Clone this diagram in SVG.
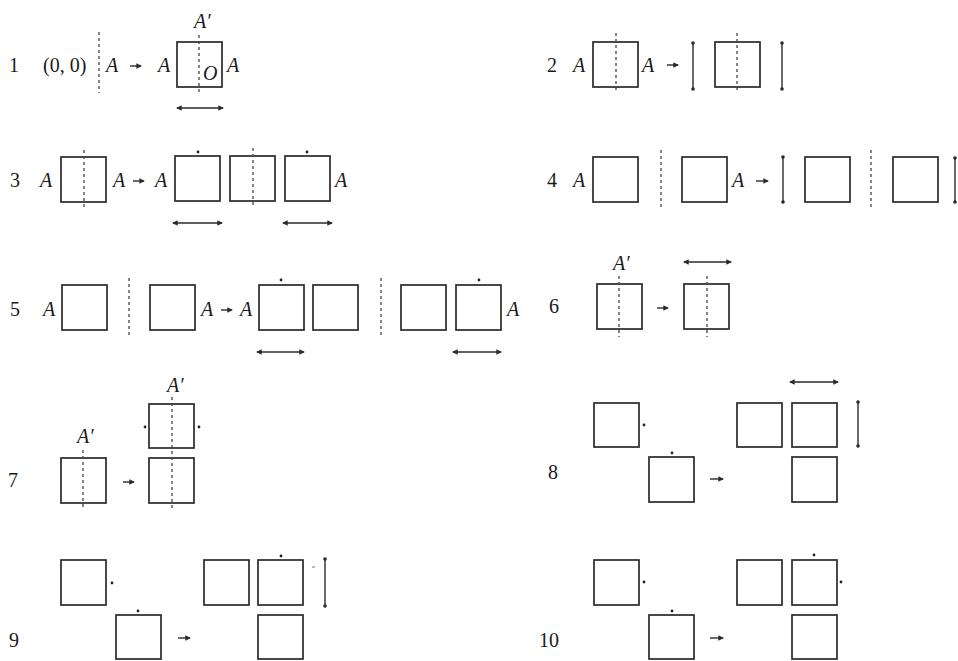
<svg xmlns="http://www.w3.org/2000/svg" width="958" height="661" viewBox="0 0 958 661">
<defs>
<style>
.sq{fill:none;stroke:#2a2a2a;stroke-width:1.7}
.ds{stroke:#444;stroke-width:1.3;stroke-dasharray:3 3;fill:none}
.t{font-family:"Liberation Serif","Times New Roman",serif;font-size:20px;fill:#1a1a1a}
.i{font-style:italic}
.dot{fill:#222}
.ln{stroke:#2a2a2a;stroke-width:1.4;fill:none}
.h{marker-start:url(#tip);marker-end:url(#tip)}
.v{marker-start:url(#rd);marker-end:url(#rd)}
.ar{marker-end:url(#tip)}
</style>
<marker id="tip" viewBox="0 0 6 6" refX="5" refY="3" markerWidth="4" markerHeight="4" orient="auto-start-reverse" markerUnits="strokeWidth">
<path d="M0,0 L6,3 L0,6 Z" fill="#2a2a2a"/>
</marker>
<marker id="rd" viewBox="0 0 6 6" refX="3" refY="3" markerWidth="2.6" markerHeight="2.6" markerUnits="strokeWidth">
<circle cx="3" cy="3" r="3" fill="#2a2a2a"/>
</marker>
</defs>
<rect width="958" height="661" fill="#fff"/>

<g id="row1">
<text class="t" x="9" y="72">1</text>
<text class="t" x="43" y="72">(0, 0)</text>
<line class="ds" x1="99" y1="32" x2="99" y2="93"/>
<text class="t i" x="106" y="72">A</text>
<text class="t i" x="158" y="72">A</text>
<rect class="sq" x="177" y="42" width="45" height="45"/>
<line class="ds" x1="199" y1="35" x2="199" y2="93"/>
<text class="t i" x="194" y="28">A′</text>
<text class="t i" x="203" y="80">O</text>
<text class="t i" x="227" y="72">A</text>
</g>

<g id="row2">
<text class="t" x="547" y="72">2</text>
<text class="t i" x="573" y="72">A</text>
<rect class="sq" x="593" y="42" width="45" height="45"/>
<line class="ds" x1="616" y1="33" x2="616" y2="93"/>
<text class="t i" x="642" y="72">A</text>
<rect class="sq" x="715" y="42" width="45" height="45"/>
<line class="ds" x1="737" y1="33" x2="737" y2="93"/>
</g>

<g id="row3">
<text class="t" x="10" y="187">3</text>
<text class="t i" x="40" y="187">A</text>
<rect class="sq" x="61" y="157" width="45" height="45"/>
<line class="ds" x1="84" y1="150" x2="84" y2="208"/>
<text class="t i" x="113" y="187">A</text>
<text class="t i" x="155" y="187">A</text>
<rect class="sq" x="175" y="156" width="45" height="45"/>
<circle class="dot" cx="198" cy="152" r="1.4"/>
<rect class="sq" x="230" y="156" width="45" height="45"/>
<line class="ds" x1="253" y1="148" x2="253" y2="207"/>
<rect class="sq" x="285" y="156" width="45" height="45"/>
<circle class="dot" cx="307" cy="152" r="1.4"/>
<text class="t i" x="335" y="187">A</text>
</g>

<g id="row4">
<text class="t" x="547" y="187">4</text>
<text class="t i" x="573" y="187">A</text>
<rect class="sq" x="593" y="157" width="45" height="45"/>
<line class="ds" x1="661" y1="150" x2="661" y2="208"/>
<rect class="sq" x="682" y="157" width="45" height="45"/>
<text class="t i" x="732" y="187">A</text>
<rect class="sq" x="805" y="157" width="45" height="45"/>
<line class="ds" x1="871" y1="150" x2="871" y2="208"/>
<rect class="sq" x="893" y="157" width="45" height="45"/>
</g>

<g id="row5">
<text class="t" x="10" y="316">5</text>
<text class="t i" x="43" y="316">A</text>
<rect class="sq" x="62" y="285" width="45" height="45"/>
<line class="ds" x1="129" y1="278" x2="129" y2="336"/>
<rect class="sq" x="150" y="285" width="45" height="45"/>
<text class="t i" x="201" y="316">A</text>
<text class="t i" x="240" y="316">A</text>
<rect class="sq" x="259" y="285" width="45" height="45"/>
<circle class="dot" cx="281" cy="280" r="1.4"/>
<rect class="sq" x="313" y="285" width="45" height="45"/>
<line class="ds" x1="381" y1="278" x2="381" y2="336"/>
<rect class="sq" x="401" y="285" width="45" height="45"/>
<rect class="sq" x="456" y="285" width="45" height="45"/>
<circle class="dot" cx="479" cy="280" r="1.4"/>
<text class="t i" x="507" y="316">A</text>
</g>

<g id="row6">
<text class="t" x="549" y="313">6</text>
<text class="t i" x="613" y="270">A′</text>
<rect class="sq" x="597" y="284" width="45" height="45"/>
<line class="ds" x1="619" y1="276" x2="619" y2="337"/>
<rect class="sq" x="684" y="284" width="45" height="45"/>
<line class="ds" x1="707" y1="276" x2="707" y2="337"/>
</g>

<g id="row7">
<text class="t" x="8" y="487">7</text>
<text class="t i" x="77" y="443">A′</text>
<rect class="sq" x="61" y="458" width="45" height="45"/>
<line class="ds" x1="83" y1="450" x2="83" y2="510"/>
<text class="t i" x="167" y="392">A′</text>
<rect class="sq" x="149" y="404" width="45" height="44"/>
<rect class="sq" x="149" y="458" width="45" height="45"/>
<line class="ds" x1="172" y1="397" x2="172" y2="510"/>
<circle class="dot" cx="145" cy="427" r="1.4"/>
<circle class="dot" cx="199" cy="427" r="1.4"/>
</g>

<g id="row8">
<text class="t" x="548" y="479">8</text>
<rect class="sq" x="594" y="403" width="45" height="44"/>
<circle class="dot" cx="644" cy="425" r="1.4"/>
<rect class="sq" x="649" y="457" width="45" height="45"/>
<circle class="dot" cx="672" cy="453" r="1.4"/>
<rect class="sq" x="737" y="403" width="45" height="44"/>
<rect class="sq" x="792" y="403" width="45" height="44"/>
<rect class="sq" x="792" y="457" width="45" height="45"/>
</g>

<g id="row9">
<text class="t" x="9" y="647">9</text>
<rect class="sq" x="61" y="560" width="45" height="45"/>
<circle class="dot" cx="112" cy="583" r="1.4"/>
<rect class="sq" x="116" y="615" width="45" height="44"/>
<circle class="dot" cx="138" cy="611" r="1.4"/>
<rect class="sq" x="204" y="560" width="45" height="45"/>
<rect class="sq" x="258" y="560" width="45" height="45"/>
<circle class="dot" cx="281" cy="556" r="1.4"/>
<line x1="312" y1="567" x2="315" y2="567" stroke="#777" stroke-width="1"/>
<rect class="sq" x="258" y="615" width="45" height="44"/>
</g>

<g id="row10">
<text class="t" x="539" y="647">10</text>
<rect class="sq" x="594" y="560" width="45" height="45"/>
<circle class="dot" cx="644" cy="582" r="1.4"/>
<rect class="sq" x="649" y="615" width="45" height="44"/>
<circle class="dot" cx="672" cy="611" r="1.4"/>
<rect class="sq" x="737" y="560" width="45" height="45"/>
<rect class="sq" x="792" y="560" width="45" height="45"/>
<circle class="dot" cx="814" cy="555" r="1.4"/>
<circle class="dot" cx="841" cy="582" r="1.4"/>
<rect class="sq" x="792" y="615" width="45" height="44"/>
</g>

<g id="connectors">
<line class="ln ar" x1="130" y1="66" x2="141" y2="66"/>
<line class="ln h" x1="177" y1="108" x2="223" y2="108"/>
<line class="ln ar" x1="667" y1="65" x2="678" y2="65"/>
<line class="ln v" x1="693" y1="43" x2="693" y2="89"/>
<line class="ln v" x1="782" y1="43" x2="782" y2="89"/>
<line class="ln ar" x1="133" y1="181" x2="144" y2="181"/>
<line class="ln h" x1="173" y1="223" x2="222" y2="223"/>
<line class="ln h" x1="283" y1="223" x2="332" y2="223"/>
<line class="ln ar" x1="756" y1="181" x2="768" y2="181"/>
<line class="ln v" x1="783" y1="157" x2="783" y2="202"/>
<line class="ln v" x1="955" y1="158" x2="955" y2="202"/>
<line class="ln ar" x1="221" y1="310" x2="232" y2="310"/>
<line class="ln h" x1="257" y1="352" x2="304" y2="352"/>
<line class="ln h" x1="453" y1="352" x2="501" y2="352"/>
<line class="ln ar" x1="657" y1="308" x2="668" y2="308"/>
<line class="ln h" x1="684" y1="262" x2="731" y2="262"/>
<line class="ln ar" x1="123" y1="482" x2="134" y2="482"/>
<line class="ln ar" x1="710" y1="479" x2="723" y2="479"/>
<line class="ln h" x1="790" y1="382" x2="838" y2="382"/>
<line class="ln v" x1="858" y1="402" x2="858" y2="446"/>
<line class="ln ar" x1="178" y1="638" x2="190" y2="638"/>
<line class="ln v" x1="325" y1="559" x2="325" y2="606"/>
<line class="ln ar" x1="710" y1="638" x2="723" y2="638"/>
</g>
</svg>
